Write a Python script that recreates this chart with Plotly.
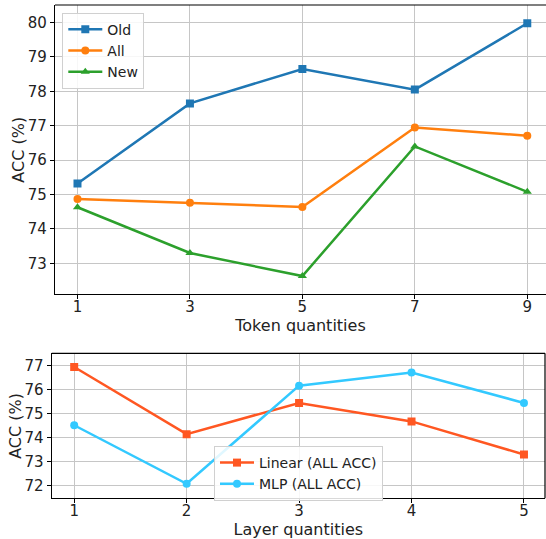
import plotly.graph_objects as go

token_x = [1, 3, 5, 7, 9]
old_acc = [75.32, 77.65, 78.65, 78.05, 79.98]
all_acc = [74.87, 74.76, 74.64, 76.95, 76.71]
new_acc = [74.63, 73.30, 72.63, 76.40, 75.08]

layer_x = [1, 2, 3, 4, 5]
linear_acc = [76.95, 74.15, 75.45, 74.68, 73.30]
mlp_acc = [74.52, 72.08, 76.17, 76.72, 75.45]

top_yticks = [73, 74, 75, 76, 77, 78, 79, 80]
bottom_yticks = [72, 73, 74, 75, 76, 77]

FONT = "DejaVu Sans"
W, H = 546, 539
fig = go.Figure()

def add(x, y, name, color, symbol, xa, ya, legend):
    fig.add_trace(go.Scatter(x=x, y=y, name=name, mode="lines+markers",
                             line=dict(color=color, width=2.5),
                             marker=dict(color=color, symbol=symbol, size=8),
                             xaxis=xa, yaxis=ya, legend=legend))

add(token_x, old_acc, "Old", "#1f77b4", "square", "x", "y", "legend")
add(token_x, all_acc, "All", "#ff7f0e", "circle", "x", "y", "legend")
add(token_x, new_acc, "New", "#2ca02c", "triangle-up", "x", "y", "legend")
add(layer_x, linear_acc, "Linear (ALL ACC)", "#ff5722", "square", "x2", "y2", "legend2")
add(layer_x, mlp_acc, "MLP (ALL ACC)", "#33c9ff", "circle", "x2", "y2", "legend2")

axis_common = dict(showgrid=True, gridcolor="#c6c6c6", gridwidth=1,
                   showline=True, linecolor="black", linewidth=1.2,
                   ticks="outside", ticklen=4, tickcolor="black",
                   tickfont=dict(family=FONT, size=15, color="#222"),
                   zeroline=False, mirror=False, automargin=False)

title_font = dict(family=FONT, size=16, color="#222")

top_dom = [1 - 294.3 / H, 1 - 5 / H]
bot_dom = [1 - 498.3 / H, 1 - 353.3 / H]

fig.update_layout(
    width=W, height=H,
    margin=dict(l=0, r=0, t=0, b=0),
    paper_bgcolor="white", plot_bgcolor="white",
    font=dict(family=FONT, color="#222"),
    xaxis=dict(domain=[55 / W, 1], range=[0.6, 9.333], tickvals=token_x,
               anchor="y", ticklabelstandoff=-5,
               title=dict(text="Token quantities", font=title_font, standoff=4),
               **axis_common),
    yaxis=dict(domain=top_dom, range=[72.10, 80.51],
               tickvals=top_yticks, anchor="x", **axis_common),
    xaxis2=dict(domain=[51.7 / W, 545 / W], range=[0.8, 5.187], tickvals=layer_x,
                anchor="y2", ticklabelstandoff=-5,
                title=dict(text="Layer quantities", font=title_font, standoff=4),
                **axis_common),
    yaxis2=dict(domain=bot_dom, range=[71.475, 77.52],
                tickvals=bottom_yticks, anchor="x2", **axis_common),
    legend=dict(x=62.3 / W, y=1 - 12.7 / H, xanchor="left", yanchor="top",
                bgcolor="rgba(255,255,255,0.85)", bordercolor="#d0d0d0", borderwidth=1,
                font=dict(family=FONT, size=14), tracegroupgap=0, itemwidth=34),
    legend2=dict(x=214 / W, y=1 - 446 / H, xanchor="left", yanchor="top",
                 bgcolor="rgba(255,255,255,0.85)", bordercolor="#d0d0d0", borderwidth=1,
                 font=dict(family=FONT, size=14), tracegroupgap=0, itemwidth=34),
    showlegend=True,
    annotations=[
        dict(text="ACC (%)", textangle=-90, xref="paper", yref="paper",
             x=19 / W, y=(top_dom[0] + top_dom[1]) / 2, xanchor="center", yanchor="middle",
             showarrow=False, font=title_font),
        dict(text="ACC (%)", textangle=-90, xref="paper", yref="paper",
             x=16 / W, y=(bot_dom[0] + bot_dom[1]) / 2, xanchor="center", yanchor="middle",
             showarrow=False, font=title_font),
    ],
)

fig.add_shape(type="line", xref="x domain", yref="y domain", x0=0, x1=1, y0=1, y1=1,
              line=dict(color="black", width=1.2))
fig.add_shape(type="line", xref="x2 domain", yref="y2 domain", x0=0, x1=1, y0=1, y1=1,
              line=dict(color="black", width=1.2))
fig.add_shape(type="line", xref="x2 domain", yref="y2 domain", x0=1, x1=1, y0=0, y1=1,
              line=dict(color="black", width=1.2))

fig.write_html("out.html", config={"displayModeBar": False},
               post_script="document.body.style.margin='0';document.body.style.overflow='hidden';")
